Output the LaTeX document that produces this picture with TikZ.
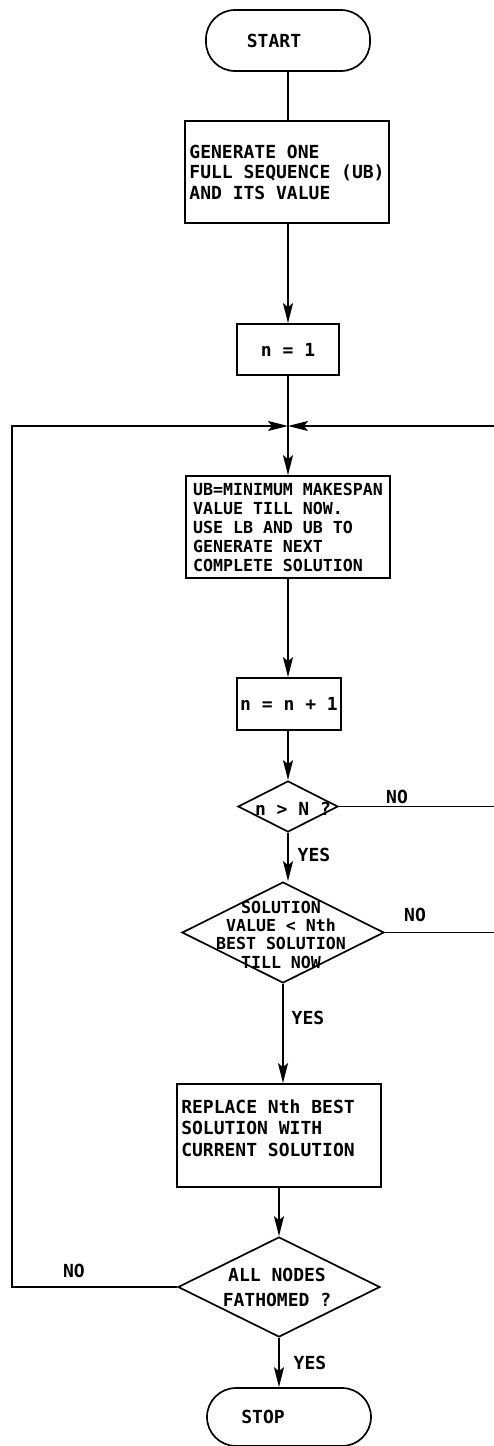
\documentclass[tikz,border=0pt]{standalone}
\usepackage{fontspec}
\setmonofont{DejaVu Sans Mono}
\usetikzlibrary{arrows.meta,shapes.geometric}
\begin{document}
\begin{tikzpicture}[x=1pt,y=-1pt,
  ln/.style={line width=1.7pt},
  arr/.style={ln,-{Stealth[length=20pt,width=10pt,inset=4pt]}},
  fa/.style={font=\ttfamily\bfseries\fontsize{18}{20.5}\selectfont},
  fb/.style={font=\ttfamily\bfseries\fontsize{16.6}{19}\selectfont},
  fc/.style={font=\ttfamily\bfseries\fontsize{16.6}{18.3}\selectfont},
  fd/.style={font=\ttfamily\bfseries\fontsize{18}{21.5}\selectfont},
  fe/.style={font=\ttfamily\bfseries\fontsize{18}{25}\selectfont},
  term/.style={draw,ln,rounded corners=29pt,minimum width=164pt,inner sep=0pt},
  proc/.style={draw,ln,minimum width=204pt,minimum height=102pt,inner sep=4pt,align=left},
  small/.style={draw,ln,minimum width=102pt,minimum height=51pt,inner sep=0pt},
  dec/.style={draw,ln,shape=diamond,inner sep=0pt}
]
\useasboundingbox (0,0) rectangle (494,1446);

\node[term,minimum height=61pt,fa] (start) at (288,40.5) {\hspace*{-28pt}START};
\node[proc,fa] (gen) at (287,172) {GENERATE ONE\\FULL SEQUENCE (UB)\\AND ITS VALUE};
\node[small,fa] (n1) at (288,349.5) {n = 1};
\node[proc,fb] (ub) at (288,527) {UB=MINIMUM MAKESPAN\\VALUE TILL NOW.\\USE LB AND UB TO\\GENERATE NEXT\\COMPLETE SOLUTION};
\node[small,minimum width=104pt,minimum height=52pt,fa] (nn) at (289,704) {n = n + 1};
\node[dec,minimum width=100pt,minimum height=51pt] (d1) at (288,806.5) {};
\node[fa] (d1t) at (293,809) {n > N ?};
\node[dec,minimum width=202pt,minimum height=101pt] (d2) at (283,932.5) {};
\node[fc,align=center] (d2t) at (281,934.5) {SOLUTION\\VALUE < Nth\\BEST SOLUTION\\TILL NOW};
\node[proc,minimum height=103pt,fd] (rep) at (279,1135.5) {REPLACE Nth BEST\hspace*{22pt}\\SOLUTION WITH\\CURRENT SOLUTION\\[-6pt]};
\node[dec,minimum width=202pt,minimum height=100pt] (d3) at (279,1287) {};
\node[fe,align=center] (d3t) at (277,1287.5) {ALL NODES\\FATHOMED ?};
\node[term,minimum height=58pt,fa] (stop) at (289,1417) {\hspace*{-52pt}STOP};

\node[fa] (yes1) at (314,855) {YES};
\node[fa] (yes2) at (308,1018) {YES};
\node[fa] (yes3) at (310,1363) {YES};
\node[fa] (no1) at (397,797) {NO};
\node[fa] (no2) at (415,915) {NO};
\node[fa] (no3) at (74,1271) {NO};

\coordinate (j) at (288,426);
\coordinate (lc) at (12,426);
\coordinate (rc) at (500,426);

\draw[ln] (start.south) -- (start.south |- gen.north);
\draw[arr] (n1.north |- gen.south) -- (n1.north);
\draw[arr] (n1.south) -- (ub.north);
\draw[arr] (ub.south) -- (ub.south |- nn.north);
\draw[arr] (d1.north |- nn.south) -- (d1.north);
\draw[arr] (d1.south) -- (d1.south |- d2.north);
\draw[arr] (d2.south) -- (d2.south |- rep.north);
\draw[arr] (rep.south -| d3.north) -- (d3.north);
\draw[arr] (d3.south) -- (d3.south |- stop.north);
\draw[arr] (d3.west) -| (lc) -- (j);
\draw[arr] (d1.east) -| (rc) -- (j);
\draw[ln] (d2.east) -- (d2.east -| rc);
\end{tikzpicture}
\end{document}
